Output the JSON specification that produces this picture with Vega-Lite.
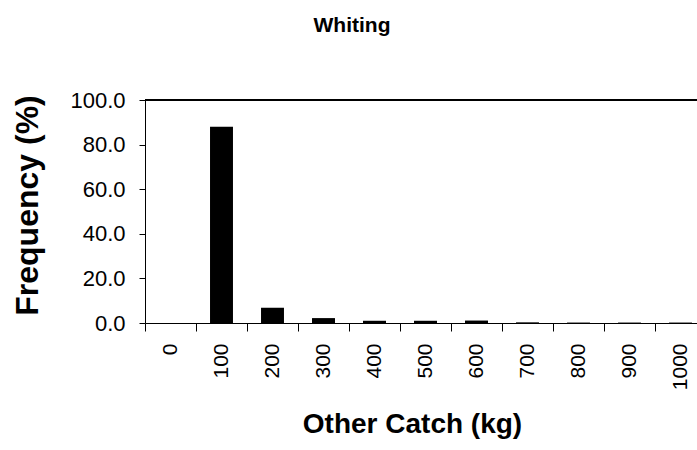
{
  "$schema": "https://vega.github.io/schema/vega-lite/v6.json",
  "width": 552,
  "height": 223,
  "autosize": {"type": "none"},
  "padding": {"left": 145, "top": 100, "right": 0, "bottom": 127},
  "background": "white",
  "config": {
    "font": "Liberation Sans",
    "view": {"stroke": null}
  },
  "title": {
    "text": "Whiting",
    "fontSize": 21,
    "fontWeight": "bold",
    "font": "Liberation Sans",
    "color": "black",
    "anchor": "middle",
    "frame": "group",
    "baseline": "alphabetic",
    "offset": 36,
    "dx": -69
  },
  "data": {
    "values": [
      {"catch": "0", "freq": 0},
      {"catch": "100", "freq": 88.0},
      {"catch": "200", "freq": 6.8},
      {"catch": "300", "freq": 2.2},
      {"catch": "400", "freq": 1.0},
      {"catch": "500", "freq": 1.0},
      {"catch": "600", "freq": 1.1},
      {"catch": "700", "freq": 0.3},
      {"catch": "800", "freq": 0.2},
      {"catch": "900", "freq": 0.2},
      {"catch": "1000", "freq": 0.2}
    ]
  },
  "layer": [
    {
      "mark": {"type": "bar", "color": "black", "width": {"band": 0.45}},
      "encoding": {
        "x": {
          "field": "catch",
          "type": "ordinal",
          "sort": null,
          "scale": {"range": [0, 561], "paddingInner": 0, "paddingOuter": 0},
          "axis": {
            "title": "Other Catch (kg)",
            "titleFontSize": 28,
            "titleFontWeight": "bold",
            "titleColor": "black",
            "titleX": 267,
            "titleY": 109,
            "titleBaseline": "alphabetic",
            "titleAlign": "center",
            "labelAngle": -90,
            "labelFontSize": 21,
            "labelColor": "black",
            "labelPadding": 12,
            "tickBand": "extent",
            "tickSize": 8,
            "tickColor": "black",
            "domainColor": "black",
            "labelOverlap": false
          }
        },
        "y": {
          "field": "freq",
          "type": "quantitative",
          "scale": {"domain": [0, 100], "nice": false},
          "axis": {
            "title": "Frequency (%)",
            "titleFontSize": 32,
            "titleFontWeight": "bold",
            "titleColor": "black",
            "titleX": -108,
            "titleY": 105,
            "titleBaseline": "alphabetic",
            "titleAlign": "center",
            "titleAngle": -90,
            "values": [0, 10, 20, 30, 40, 50, 60, 70, 80, 90, 100],
            "labelExpr": "datum.value % 20 == 0 ? format(datum.value, '.1f') : ''",
            "labelFontSize": 22,
            "labelColor": "black",
            "labelPadding": 14,
            "tickSize": 6,
            "tickColor": "black",
            "domainColor": "black",
            "grid": false,
            "labelOverlap": false
          }
        }
      }
    },
    {
      "mark": {"type": "rule", "color": "black", "strokeWidth": 1.5},
      "encoding": {"y": {"datum": 100}}
    }
  ]
}
